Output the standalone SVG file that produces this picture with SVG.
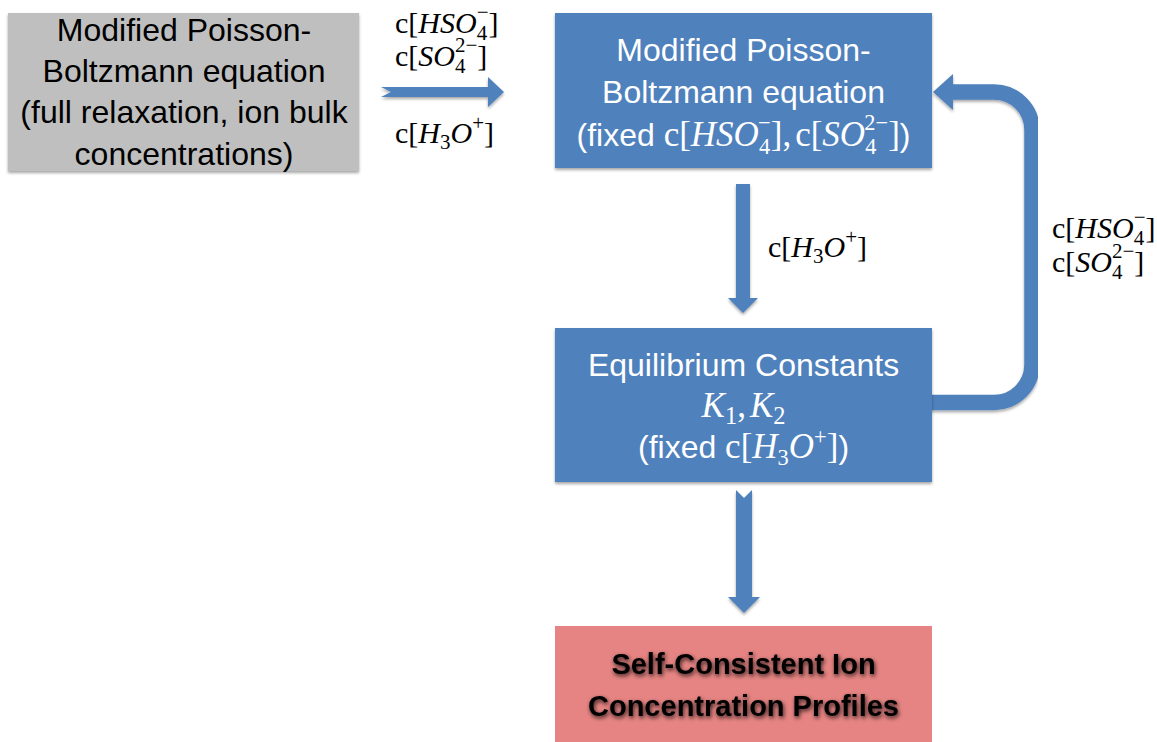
<svg xmlns="http://www.w3.org/2000/svg" width="1157" height="742" viewBox="0 0 1157 742">
<defs>
<filter id="shadow" x="-5%" y="-5%" width="110%" height="115%">
<feDropShadow dx="0" dy="2" stdDeviation="1.5" flood-color="#000" flood-opacity="0.35"/>
</filter>
<filter id="tglow" x="-10%" y="-30%" width="120%" height="160%">
<feGaussianBlur in="SourceAlpha" stdDeviation="2.2" result="b"/>
<feOffset in="b" dx="1" dy="2" result="o"/>
<feComponentTransfer in="o" result="o2"><feFuncA type="linear" slope="0.8"/></feComponentTransfer>
<feMerge><feMergeNode in="o2"/><feMergeNode in="SourceGraphic"/></feMerge>
</filter>
<style>
.box-blue{fill:#4f81bd}
.box-gray{fill:#bfbfbf}
.box-pink{fill:#e58482}
.arrow{fill:#4f81bd}
.sans{font-family:"Liberation Sans",Arial,sans-serif;font-size:32px}
.w{fill:#ffffff}
.k{fill:#000000}
.bold{font-family:"Liberation Sans",Arial,sans-serif;font-size:29px;font-weight:bold;fill:#000}
.m{font-family:"Liberation Serif","Times New Roman",serif;font-size:30px;fill:#000}
.mb{font-family:"Liberation Serif","Times New Roman",serif;font-size:35px}
.i{font-style:italic}
.s{font-size:0.7em}
</style>
</defs>

<g id="connectors">
<polygon class="arrow" filter="url(#shadow)" points="381,87 488,87 488,77 504,92 488,107 488,97 381,97 391,92"/>
<polygon class="arrow" filter="url(#shadow)" points="736,184 750,184 750,298 758,298 743,313 728,298 736,298"/>
<polygon class="arrow" filter="url(#shadow)" points="736,490 744,498 752,490 752,597 760,597 744,613 728,597 736,597"/>
<g filter="url(#shadow)">
<path d="M 930 402.5 H 994 A 38 38 0 0 0 1032 364.5 V 130 A 38 38 0 0 0 994 92 H 950" fill="none" stroke="#4f81bd" stroke-width="15.5"/>
<polygon class="arrow" points="953,74 933,92 953,110"/>
</g>
</g>

<g id="labels">
<text class="m" x="395" y="33">c[<tspan class="i">HSO</tspan><tspan class="s" dy="7">4</tspan><tspan class="s" dx="-10.5" dy="-21">−</tspan><tspan dy="14">]</tspan></text>
<text class="m" x="395" y="66">c[<tspan class="i">SO</tspan><tspan class="s" dy="7">4</tspan><tspan class="s" dx="-10.5" dy="-21">2−</tspan><tspan dy="14">]</tspan></text>
<text class="m" x="395" y="143">c[<tspan class="i">H</tspan><tspan class="s" dy="6">3</tspan><tspan class="i" dy="-6">O</tspan><tspan class="s" dy="-13">+</tspan><tspan dy="13">]</tspan></text>
<text class="m" x="768" y="257">c[<tspan class="i">H</tspan><tspan class="s" dy="6">3</tspan><tspan class="i" dy="-6">O</tspan><tspan class="s" dy="-13">+</tspan><tspan dy="13">]</tspan></text>
<text class="m" x="1052" y="238">c[<tspan class="i">HSO</tspan><tspan class="s" dy="7">4</tspan><tspan class="s" dx="-10.5" dy="-21">−</tspan><tspan dy="14">]</tspan></text>
<text class="m" x="1052" y="272">c[<tspan class="i">SO</tspan><tspan class="s" dy="7">4</tspan><tspan class="s" dx="-10.5" dy="-21">2−</tspan><tspan dy="14">]</tspan></text>
</g>

<g id="node-initial-pb">
<rect class="box-gray" filter="url(#shadow)" x="8" y="13" width="351" height="158"/>
<text class="sans k" text-anchor="middle" x="184" y="41">Modified Poisson-</text>
<text class="sans k" text-anchor="middle" x="184" y="82">Boltzmann equation</text>
<text class="sans k" text-anchor="middle" x="184" y="123">(full relaxation, ion bulk</text>
<text class="sans k" text-anchor="middle" x="184" y="165">concentrations)</text>
</g>

<g id="node-modified-pb">
<rect class="box-blue" filter="url(#shadow)" x="555" y="13" width="377" height="155"/>
<text class="sans w" text-anchor="middle" x="743.5" y="61">Modified Poisson-</text>
<text class="sans w" text-anchor="middle" x="743.5" y="103">Boltzmann equation</text>
<text class="sans w" text-anchor="middle" x="743.5" y="146">(fixed <tspan class="mb">c[</tspan><tspan class="mb i">HSO</tspan><tspan class="mb s" dy="8">4</tspan><tspan class="mb s" dx="-12" dy="-24">−</tspan><tspan class="mb" dy="16">],</tspan><tspan class="mb" dx="4">c[</tspan><tspan class="mb i">SO</tspan><tspan class="mb s" dy="8">4</tspan><tspan class="mb s" dx="-12" dy="-24">2−</tspan><tspan class="mb" dy="16">]</tspan>)</text>
</g>

<g id="node-equilibrium">
<rect class="box-blue" filter="url(#shadow)" x="555" y="328" width="377" height="154"/>
<text class="sans w" text-anchor="middle" x="743.5" y="376">Equilibrium Constants</text>
<text class="mb w" text-anchor="middle" x="743.5" y="417"><tspan class="i">K</tspan><tspan class="s" dy="7">1</tspan><tspan dy="-7">,</tspan><tspan class="i" dx="4">K</tspan><tspan class="s" dy="7">2</tspan></text>
<text class="sans w" text-anchor="middle" x="743.5" y="458">(fixed <tspan class="mb">c[</tspan><tspan class="mb i">H</tspan><tspan class="mb s" dy="7">3</tspan><tspan class="mb i" dy="-7">O</tspan><tspan class="mb s" dy="-14">+</tspan><tspan class="mb" dy="14">]</tspan>)</text>
</g>

<g id="node-result">
<rect class="box-pink" x="555" y="626" width="377" height="120"/>
<text class="bold" filter="url(#tglow)" text-anchor="middle" x="743.5" y="674">Self-Consistent Ion</text>
<text class="bold" filter="url(#tglow)" text-anchor="middle" x="743.5" y="716">Concentration Profiles</text>
</g>
</svg>
